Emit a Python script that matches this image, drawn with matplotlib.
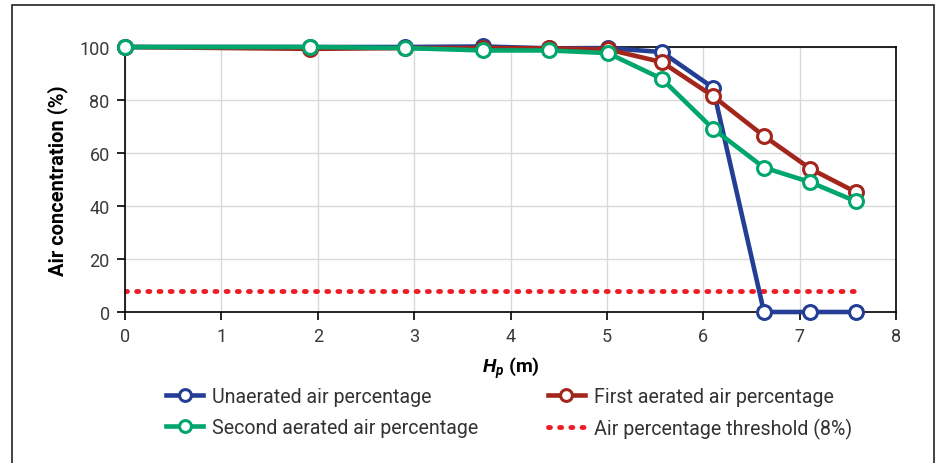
import matplotlib.pyplot as plt
from matplotlib.patches import Rectangle

plt.rcParams['font.family'] = ['Roboto', 'DejaVu Sans']
plt.rcParams['mathtext.fontset'] = 'custom'
plt.rcParams['mathtext.it'] = 'Roboto:italic:bold'
plt.rcParams['mathtext.rm'] = 'Roboto:bold'

# data
hp = [0, 1.92, 2.91, 3.71, 4.40, 5.01, 5.57, 6.10, 6.63, 7.11, 7.58]
unaerated = [100, 100, 100, 100.2, 99.5, 99.6, 98.1, 84.7, 0, 0, 0]
first_aerated = [100, 99.3, 99.6, 99.6, 99.5, 99.1, 94.3, 81.5, 66.4, 54.1, 45.3]
second_aerated = [100, 100, 99.6, 98.7, 98.7, 97.7, 88.0, 69.2, 54.5, 49.0, 41.8]
threshold = 8

fig = plt.figure(figsize=(9.38, 4.64), dpi=100)
ax = fig.add_axes([125/938, 1 - 313/464, (896-125)/938, (313-48)/464])

# outer frame
fig.patches.append(Rectangle((12/938, -0.05), (934-12)/938, 1.05 - 6/464,
                             transform=fig.transFigure, fill=False,
                             edgecolor='#222222', linewidth=1.2))

mk = dict(marker='o', markersize=10, markerfacecolor='white',
          markeredgewidth=2.2, linewidth=3.3, clip_on=False)

l1, = ax.plot(hp, unaerated, color='#233e94', label='Unaerated air percentage', zorder=3, **mk)
l2, = ax.plot(hp, first_aerated, color='#a3261d', label='First aerated air percentage', zorder=4, **mk)
l3, = ax.plot(hp, second_aerated, color='#00a66c', label='Second aerated air percentage', zorder=5, **mk)
l4, = ax.plot([hp[0], hp[-1]], [threshold, threshold], color='#ee1c25', linestyle=(0, (0.4, 1.9)),
              dash_capstyle='round', linewidth=3.5, label='Air percentage threshold (8%)', zorder=2)

ax.set_xlim(0, 8)
ax.set_ylim(0, 100)
ax.set_xticks(range(0, 9))
ax.set_yticks(range(0, 101, 20))
ax.grid(True, color='#d9d9d9', linewidth=1)
ax.set_axisbelow(True)
for s in ax.spines.values():
    s.set_color('black')
    s.set_linewidth(1.2)
ax.tick_params(direction='out', length=6, width=1.2, labelsize=13,
               labelcolor='#3a3a3a', pad=5)

ax.set_ylabel('Air concentration (%)', fontsize=14.5, fontweight='bold')
ax.yaxis.set_label_coords(-0.074, 0.5)
ax.set_xlabel(r'$H_p$ (m)', fontsize=14, fontweight='bold')
ax.xaxis.set_label_coords(0.5, -0.16)

leg = fig.legend([l1, l3, l2, l4], [h.get_label() for h in [l1, l3, l2, l4]],
                 loc='upper left', bbox_to_anchor=(166/938, 1 - 388/464), ncol=2,
                 frameon=False, fontsize=14.1, handlelength=1.9, handletextpad=0.45,
                 columnspacing=3.55, labelspacing=0.6, borderpad=0, borderaxespad=0,
                 labelcolor='#333333')
for h in leg.legend_handles:
    h.set_markersize(8.5)

fig.savefig('out.png', dpi=100)
